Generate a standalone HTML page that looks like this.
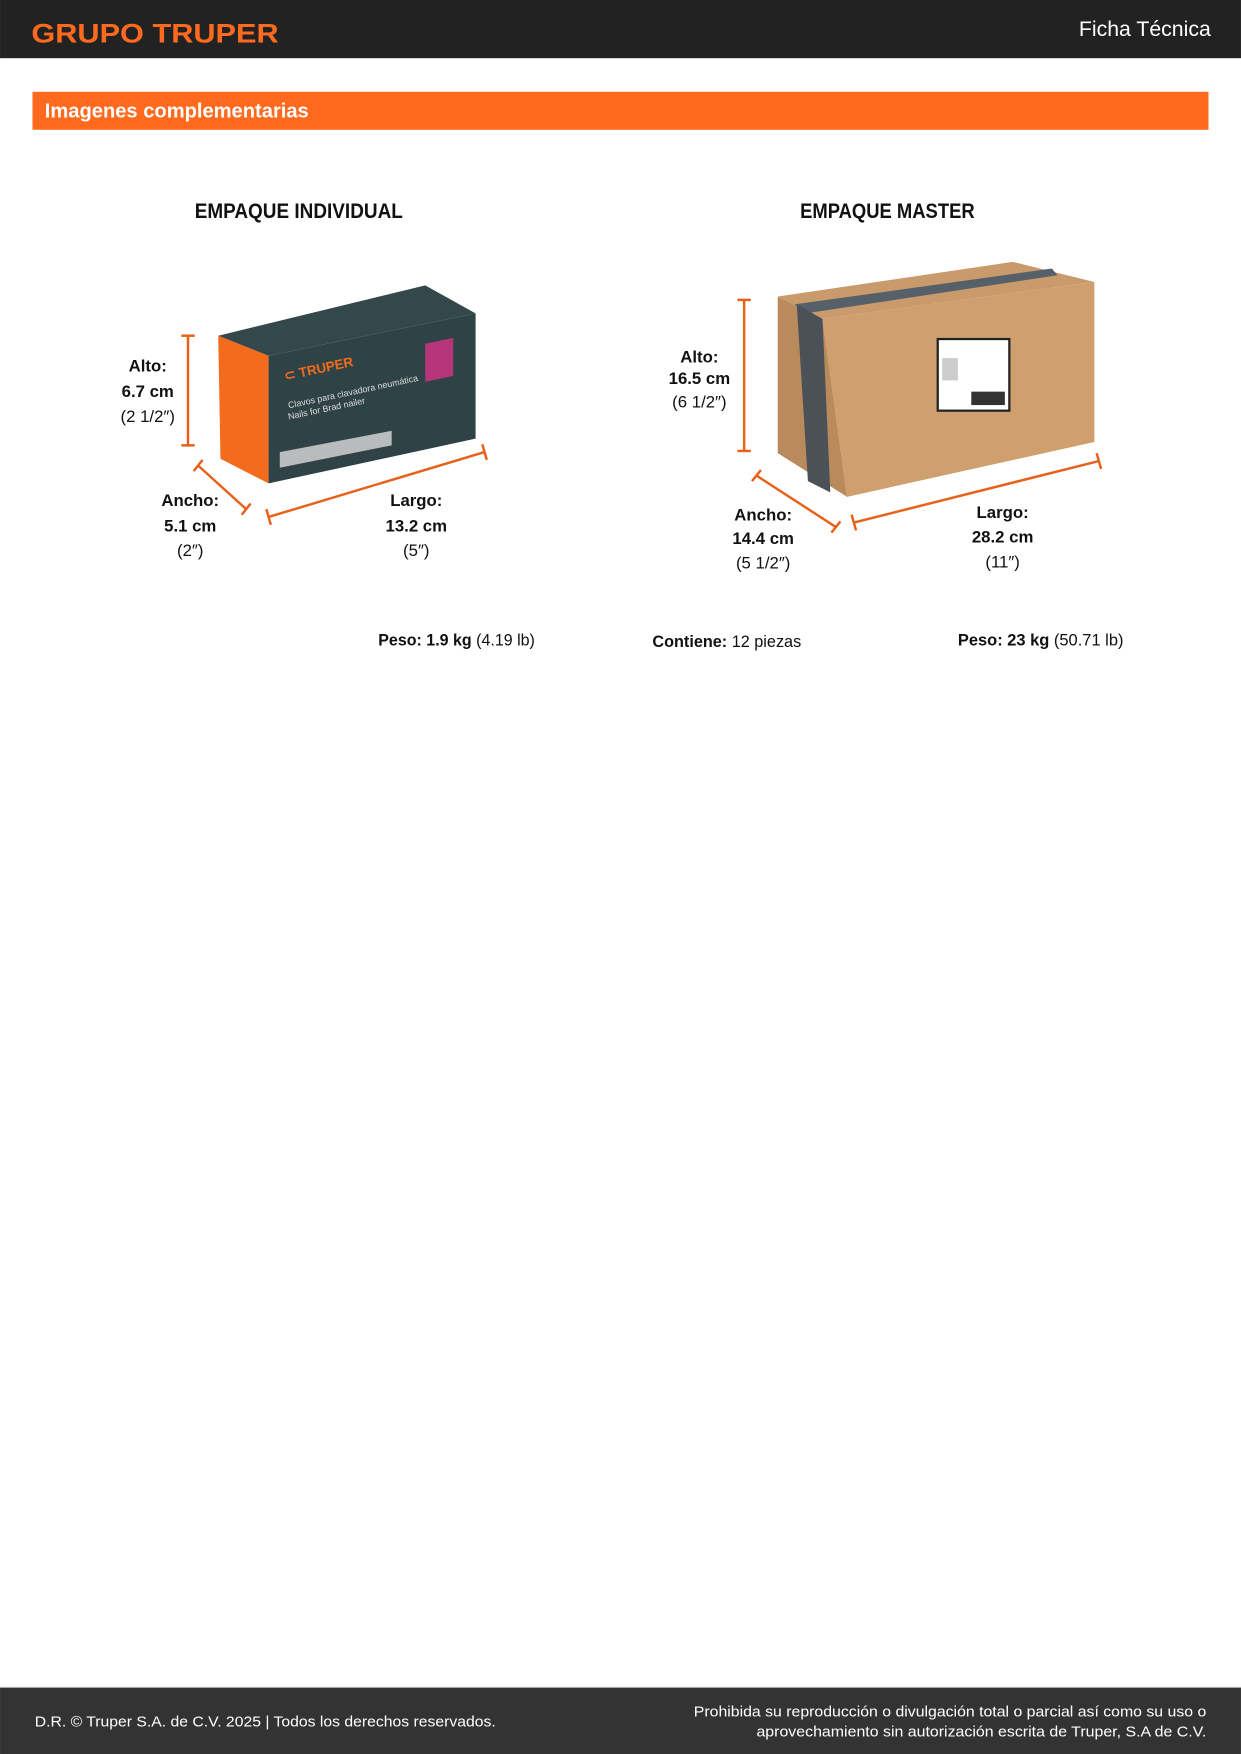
<!DOCTYPE html>
<html><head><meta charset="utf-8"><style>
html,body{margin:0;padding:0;background:#fff}
svg{display:block}
text{font-family:"Liberation Sans",sans-serif}
</style></head><body>
<svg width="1241" height="1754" viewBox="0 0 1109 1567.5" xmlns="http://www.w3.org/2000/svg">
<rect x="0" y="0" width="1109" height="52" fill="#222"/>
<text x="28" y="38" font-size="24" font-weight="bold" fill="#ff6a1f" textLength="221" lengthAdjust="spacingAndGlyphs">GRUPO TRUPER</text>
<text x="1082" y="32" font-size="19" fill="#fff" text-anchor="end">Ficha Técnica</text>
<rect x="29" y="82" width="1051" height="34" fill="#ff6a1f"/>
<text x="40" y="105" font-size="18" font-weight="bold" fill="#fff">Imagenes complementarias</text>

<text x="174" y="195" font-size="19" font-weight="bold" fill="#111" textLength="186" lengthAdjust="spacingAndGlyphs">EMPAQUE INDIVIDUAL</text>
<text x="715" y="195" font-size="19" font-weight="bold" fill="#111" textLength="156" lengthAdjust="spacingAndGlyphs">EMPAQUE MASTER</text>

<!-- individual box -->
<polygon points="195,300 380,255 425,280 240,318" fill="#34484c"/>
<polygon points="195,300 240,318 240,432 197,410" fill="#f36b1c"/>
<polygon points="240,318 425,280 425,392 240,432" fill="#2f4347"/>
<polygon points="250,404 350,385 350,398 250,418" fill="#b9bcbc"/>
<rect x="380" y="308" width="25" height="34" fill="#b4357a" transform="skewY(-12) translate(0,80)"/>
<text x="255" y="340" font-size="12" font-weight="bold" fill="#f36b1c" transform="rotate(-12 255 340)">⊂ TRUPER</text>
<text x="258" y="365" font-size="8" fill="#ddd" transform="rotate(-12 258 365)">Clavos para clavadora neumática</text>
<text x="258" y="375" font-size="8" fill="#ddd" transform="rotate(-12 258 375)">Nails for Brad nailer</text>

<g stroke="#e8611a" stroke-width="2.2" fill="none">
<line x1="168" y1="300" x2="168" y2="398"/><line x1="162" y1="300" x2="174" y2="300"/><line x1="162" y1="398" x2="174" y2="398"/>
<line x1="177" y1="416" x2="220" y2="455"/><line x1="173" y1="421" x2="181" y2="411"/><line x1="216" y1="460" x2="224" y2="450"/>
<line x1="240" y1="462" x2="433" y2="404"/><line x1="238" y1="455" x2="242" y2="469"/><line x1="431" y1="397" x2="435" y2="411"/>
</g>
<g font-size="15" text-anchor="middle" fill="#111">
<text x="132" y="332" font-weight="bold">Alto:</text><text x="132" y="355" font-weight="bold">6.7 cm</text><text x="132" y="377">(2 1/2″)</text>
<text x="170" y="452" font-weight="bold">Ancho:</text><text x="170" y="475" font-weight="bold">5.1 cm</text><text x="170" y="497">(2″)</text>
<text x="372" y="452" font-weight="bold">Largo:</text><text x="372" y="475" font-weight="bold">13.2 cm</text><text x="372" y="497">(5″)</text>
</g>

<!-- master box -->
<polygon points="695,265 905,234 978,252 735,285" fill="#c99a6b"/>
<polygon points="695,265 735,285 757,444 695,405" fill="#b98a5c"/>
<polygon points="735,285 978,252 978,395 757,444" fill="#cf9f70"/>
<polygon points="710,272 940,240 945,246 720,280" fill="#556069"/>
<polygon points="712,272 735,285 742,440 722,430" fill="#4a5258"/>
<rect x="838" y="303" width="64" height="64" fill="#fff" stroke="#222" stroke-width="2"/>
<rect x="842" y="320" width="14" height="20" fill="#ccc"/>
<rect x="868" y="350" width="30" height="12" fill="#333"/>
<g stroke="#e8611a" stroke-width="2.2" fill="none">
<line x1="665" y1="268" x2="665" y2="403"/><line x1="659" y1="268" x2="671" y2="268"/><line x1="659" y1="403" x2="671" y2="403"/>
<line x1="676" y1="425" x2="747" y2="471"/><line x1="672" y1="430" x2="680" y2="420"/><line x1="743" y1="476" x2="751" y2="466"/>
<line x1="763" y1="467" x2="982" y2="412"/><line x1="761" y1="460" x2="765" y2="474"/><line x1="980" y1="405" x2="984" y2="419"/>
</g>
<g font-size="15" text-anchor="middle" fill="#111">
<text x="625" y="324" font-weight="bold">Alto:</text><text x="625" y="343" font-weight="bold">16.5 cm</text><text x="625" y="364">(6 1/2″)</text>
<text x="682" y="465" font-weight="bold">Ancho:</text><text x="682" y="486" font-weight="bold">14.4 cm</text><text x="682" y="508">(5 1/2″)</text>
<text x="896" y="463" font-weight="bold">Largo:</text><text x="896" y="485" font-weight="bold">28.2 cm</text><text x="896" y="507">(11″)</text>
</g>
<g font-size="15" fill="#111">
<text x="338" y="577" textLength="140" lengthAdjust="spacingAndGlyphs"><tspan font-weight="bold">Peso: 1.9 kg</tspan> (4.19 lb)</text>
<text x="583" y="578" textLength="133" lengthAdjust="spacingAndGlyphs"><tspan font-weight="bold">Contiene:</tspan> 12 piezas</text>
<text x="856" y="577" textLength="148" lengthAdjust="spacingAndGlyphs"><tspan font-weight="bold">Peso: 23 kg</tspan> (50.71 lb)</text>
</g>

<rect x="0" y="1508" width="1109" height="60" fill="#333"/>
<line x1="0" y1="1508" x2="1109" y2="1508" stroke="#aaa" stroke-width="1"/>
<g font-size="13.5" fill="#fff">
<text x="31" y="1543" textLength="412" lengthAdjust="spacingAndGlyphs">D.R. © Truper S.A. de C.V. 2025 | Todos los derechos reservados.</text>
<text x="620" y="1534" textLength="458" lengthAdjust="spacingAndGlyphs">Prohibida su reproducción o divulgación total o parcial así como su uso o</text>
<text x="676" y="1552" textLength="402" lengthAdjust="spacingAndGlyphs">aprovechamiento sin autorización escrita de Truper, S.A de C.V.</text>
</g>
</svg>
</body></html>
